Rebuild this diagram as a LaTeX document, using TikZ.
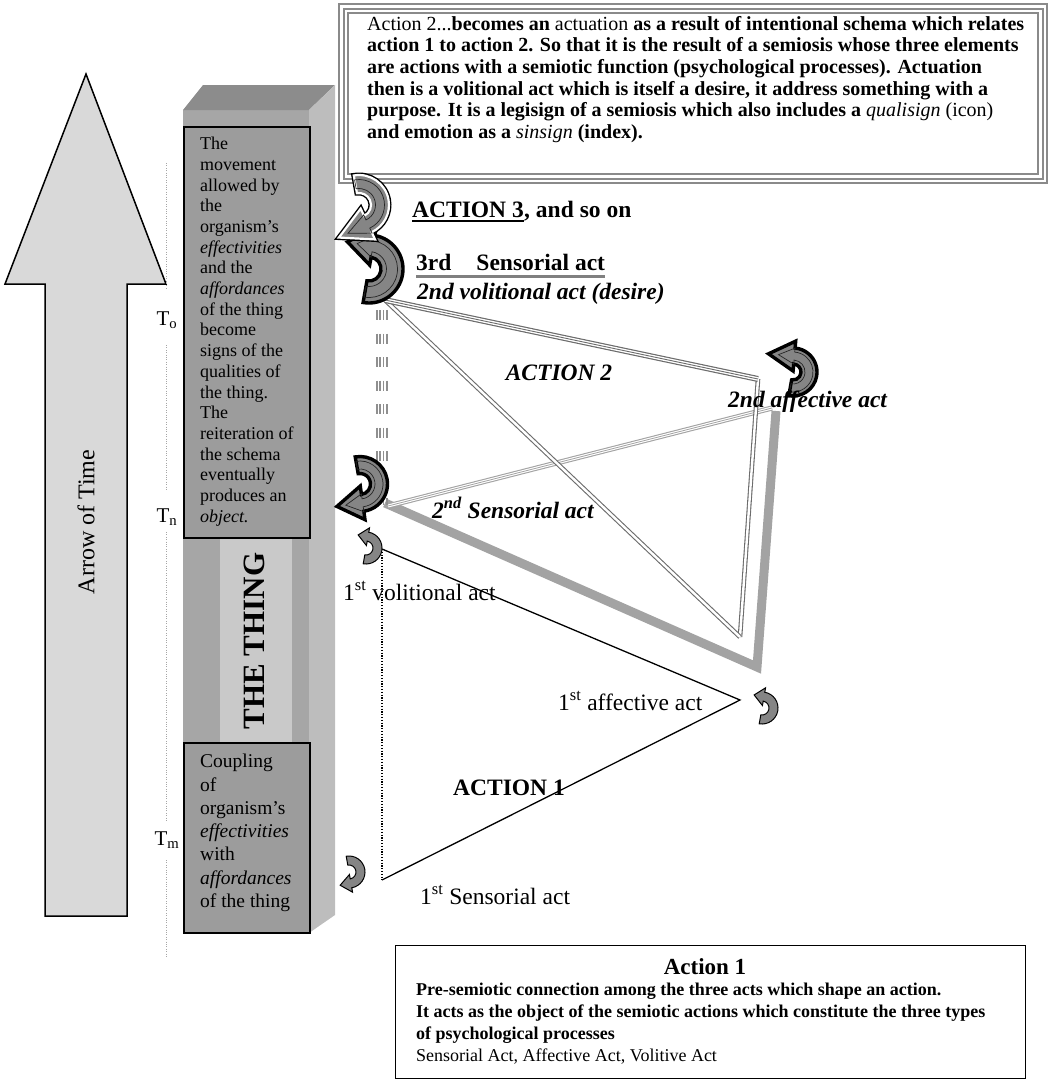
\documentclass[tikz,border=0pt]{standalone}
\usepackage{fontspec}
\setmainfont{Liberation Serif}
\usetikzlibrary{calc}
\definecolor{colfront}{HTML}{A6A6A6}
\definecolor{coltop}{HTML}{8C8C8C}
\definecolor{colside}{HTML}{BDBDBD}
\definecolor{colstripe}{HTML}{C9C9C9}
\definecolor{boxfill}{HTML}{9C9C9C}
\definecolor{timefill}{HTML}{D9D9D9}
\definecolor{lgray}{HTML}{A3A3A3}
\definecolor{dgray}{HTML}{6C6C6C}
\definecolor{framegray}{HTML}{8A8A8A}
\definecolor{arrgray}{HTML}{858585}
\definecolor{combgray}{HTML}{8F8F8F}
% curved arrow: style, centre, R, half thickness, start angle, end angle, head half width, head length, tip direction
\newcommand{\carr}[9]{%
  \path[#1] ($#2+(#5:{#3+#4})$) arc[start angle=#5, end angle=#6, radius={#3+#4}]
    -- ($#2+(#6:{#3+#7})$) -- ($#2+(#6:#3)+(#9:#8)$) -- ($#2+(#6:{#3-#7})$)
    -- ($#2+(#6:{#3-#4})$) arc[start angle=#6, end angle=#5, radius={#3-#4}] -- cycle;}
\begin{document}
\begin{tikzpicture}[x=1pt,y=-1pt,
  lbl/.style={inner sep=0, anchor=base west, font=\fontsize{23.5}{28}\selectfont},
  coltext/.style={inner sep=0, anchor=north west, align=left, font=\fontsize{18}{20.7}\selectfont},
  colbox/.style={draw=black, line width=1.5, fill=boxfill},
  tri/.style={draw=black, line width=1.3},
  tridot/.style={draw=black, line width=1.2, dash pattern=on 1.2pt off 1.6pt},
  tdot/.style={draw=gray!70, line width=1, dash pattern=on 1pt off 1.4pt},
  thickg/.style={draw=lgray, line width=9, line join=miter},
  lightdbl/.style={draw=lgray, line width=1.1, double=white, double distance=3},
  darkdbl/.style={draw=dgray, line width=1.1, double=white, double distance=2.4},
  comb/.style={draw=combgray, line width=1.5, dash pattern=on 10pt off 13.5pt},
  smallarr/.style={fill=arrgray, draw=black, line width=1, line join=miter},
  bigarr/.style={fill=arrgray, draw=black, line width=3.4, line join=miter, miter limit=3},
  innerline/.style={draw=black!85, line width=0.7, line join=miter},
]
\useasboundingbox (0,0) rectangle (1051,1084);

% ---------- Arrow of time ----------
\draw[black, line width=1.5, fill=timefill, line join=miter]
  (86,74) -- (166,284) -- (127,284) -- (127,916) -- (45,916) -- (45,284) -- (5,284) -- cycle;
\node[rotate=90, font=\fontsize{24}{28}\selectfont] (aot) at (86,522) {Arrow of Time};

% time marks
\draw[tdot] (166,163) -- (166,290);
\draw[tdot] (166,345) -- (166,490);
\draw[tdot] (166,532) -- (166,822);
\draw[tdot] (166,860) -- (166,958);
\node[inner sep=0, anchor=base, font=\fontsize{21}{24}\selectfont] (To) at (167,325) {T\textsubscript{o}};
\node[inner sep=0, anchor=base, font=\fontsize{21}{24}\selectfont] (Tn) at (167,522) {T\textsubscript{n}};
\node[inner sep=0, anchor=base, font=\fontsize{21}{24}\selectfont] (Tm) at (167,845) {T\textsubscript{m}};

% ---------- The thing (column) ----------
\fill[colfront] (183,110) rectangle (309,933);
\fill[colstripe] (220,538) rectangle (292,743);
\fill[coltop] (183,110) -- (203,85) -- (335,85) -- (309,110) -- cycle;
\fill[colside] (309,110) -- (335,85) -- (335,915) -- (309,933) -- cycle;
\draw[colbox] (184,127) rectangle (310,538);
\draw[colbox] (184,743) rectangle (310,933);
\node[coltext] (toptext) at (200,137) {The\\movement\\allowed by\\the\\organism’s\\\textit{effectivities}\\and the\\\textit{affordances}\\of the thing\\become\\signs of the\\qualities of\\the thing.\\The\\reiteration of\\the schema\\eventually\\produces an\\\textit{object.}};
\node[coltext, font=\fontsize{19.5}{23.3}\selectfont] (bottext) at (200,754) {Coupling\\of\\organism’s\\\textit{effectivities}\\with\\\textit{affordances}\\of the thing};
\node[rotate=90, font=\bfseries\fontsize{31}{34}\selectfont] (thing) at (254,641) {THE THING};

% ---------- Action 2 box ----------
\fill[white] (339,4) rectangle (1047,183);
\draw[framegray, line width=2] (339,4) rectangle (1047,183);
\draw[framegray, line width=2] (343.5,8.5) rectangle (1042.5,178.5);
\draw[framegray, line width=1.5] (348,13) rectangle (1038,174);
\node[inner sep=0, anchor=north west, align=left, font=\fontsize{20}{21.6}\selectfont] (a2text) at (367,16)
{Action 2...\textbf{becomes an} actuation \textbf{as a result of intentional schema which relates}\\
\textbf{action 1 to action 2. So that it is the result of a semiosis whose three elements}\\
\textbf{are actions with a semiotic function (psychological processes). Actuation}\\
\textbf{then is a volitional act which is itself a desire, it address something with a}\\
\textbf{purpose. It is a legisign of a semiosis which also includes a} \textit{qualisign} (icon)\\
\textbf{and emotion as a} \textit{sinsign} \textbf{(index).}};

% ---------- Action 1 box ----------
\node[draw=black, line width=1, inner sep=0, minimum width=630pt, minimum height=133pt, anchor=north west] (a1box) at (395,945) {};
\node[inner sep=0, font=\bfseries\fontsize{23}{26}\selectfont] (a1title) at (705,967) {Action 1};
\node[inner sep=0, anchor=north west, align=left, font=\fontsize{18}{22}\selectfont] (a1text) at (416,983)
{\textbf{Pre-semiotic connection among the three acts which shape an action.}\\
\textbf{It acts as the object of the semiotic actions which constitute the three types}\\
\textbf{of psychological processes}\\
Sensorial Act, Affective Act, Volitive Act};

% ---------- vertices ----------
\coordinate (V1) at (382,549);
\coordinate (A1) at (740,700);
\coordinate (S1) at (382,880);
\coordinate (S2) at (385,503);
\coordinate (C1) at (757,667);
\coordinate (C2) at (776,411);
\coordinate (S2b) at (388,506);
\coordinate (A2) at (772,408);
\coordinate (V2) at (385,300);
\coordinate (T1) at (758,379);
\coordinate (B2) at (740,637);
\coordinate (cmbT) at (382,310);
\coordinate (cmbB) at (382,505);

% ---------- triangles ----------
\draw[tri] (V1) -- (A1) -- (S1);
\draw[tridot] (V1) -- (S1);
\draw[thickg] (S2) -- (C1) -- (C2);
\draw[lightdbl] (S2b) -- (A2);
\draw[lgray, line width=0.8] (S2b) -- (A2);
\draw[darkdbl] (T1) -- (B2);
\draw[darkdbl] (B2) -- (V2);
\draw[dgray, line width=1.2, double=white, double distance=3.6] (V2) -- (T1);
\draw[dgray, line width=0.9] (V2) -- (T1);
\foreach \dx in {-5,-1.8,1.4,5} \draw[comb] ([xshift=\dx pt]cmbT) -- ([xshift=\dx pt]cmbB);

% ---------- curved arrows ----------
\carr{smallarr}{(366,548)}{11.5}{4.5}{100}{-80}{9}{10}{-170}
\carr{smallarr}{(762,708)}{11.5}{4.5}{100}{-80}{9}{10}{-170}
\carr{smallarr}{(349,872)}{11.5}{4.5}{-100}{80}{9}{11}{170}
% 2nd sensorial
\carr{bigarr}{(360,484)}{19}{8.5}{-100}{82}{17}{26}{172}
\carr{innerline}{(360,484)}{19}{4}{-100}{82}{9}{17}{172}
% 3rd sensorial / 2nd volitional
\carr{bigarr}{(369,269)}{23}{11}{100}{-80}{19}{26}{-170}
\carr{innerline}{(369,269)}{23}{5.5}{100}{-80}{11}{16}{-170}
\carr{draw=black, line width=5, line join=miter, miter limit=3}{(359,205)}{21}{9}{-100}{65}{17}{32}{155}
\carr{draw=white, line width=2.2, fill=arrgray, line join=miter, miter limit=3}{(359,205)}{21}{9}{-100}{65}{17}{32}{155}
\carr{innerline}{(359,205)}{21}{4.5}{-100}{65}{10}{22}{155}
% 2nd affective
\carr{bigarr}{(793,372)}{16}{8}{100}{-85}{15}{26}{-175}
\carr{innerline}{(793,372)}{16}{4}{100}{-85}{8}{16}{-175}

% ---------- labels ----------
\node[lbl, font=\bfseries\fontsize{23.5}{28}\selectfont] (act3) at (412,217) {ACTION 3};
\node[lbl, font=\bfseries\fontsize{23.5}{28}\selectfont] (act3b) at (act3.base east) {, and so on};
\draw[black, line width=2] ([yshift=-4pt]act3.base west) -- ([yshift=-4pt]act3.base east);
\node[lbl, font=\bfseries\fontsize{23.5}{28}\selectfont] (sens3) at (416,270) {3rd\hspace{25pt}Sensorial act};
\draw[gray, line width=3] ([yshift=-6pt]sens3.base west) -- ([yshift=-6pt]sens3.base east);
\node[lbl, font=\bfseries\itshape\fontsize{23.5}{28}\selectfont] (vol2) at (417,299) {2nd volitional act (desire)};
\node[lbl, anchor=base, font=\bfseries\itshape\fontsize{23.5}{28}\selectfont] (act2) at (559,380) {ACTION 2};
\node[lbl, font=\bfseries\itshape\fontsize{23.5}{28}\selectfont] (aff2) at (728,407) {2nd affective act};
\node[lbl, font=\bfseries\itshape\fontsize{23.5}{28}\selectfont] (sens2) at (432,518) {2\textsuperscript{nd} Sensorial act};
\node[lbl] (vol1) at (343,600) {1\textsuperscript{st} volitional act};
\node[lbl] (aff1) at (558,710) {1\textsuperscript{st} affective act};
\node[lbl, font=\bfseries\fontsize{23.5}{28}\selectfont] (act1) at (453,795) {ACTION 1};
\node[lbl] (sens1) at (420,904) {1\textsuperscript{st} Sensorial act};
\end{tikzpicture}
\end{document}
